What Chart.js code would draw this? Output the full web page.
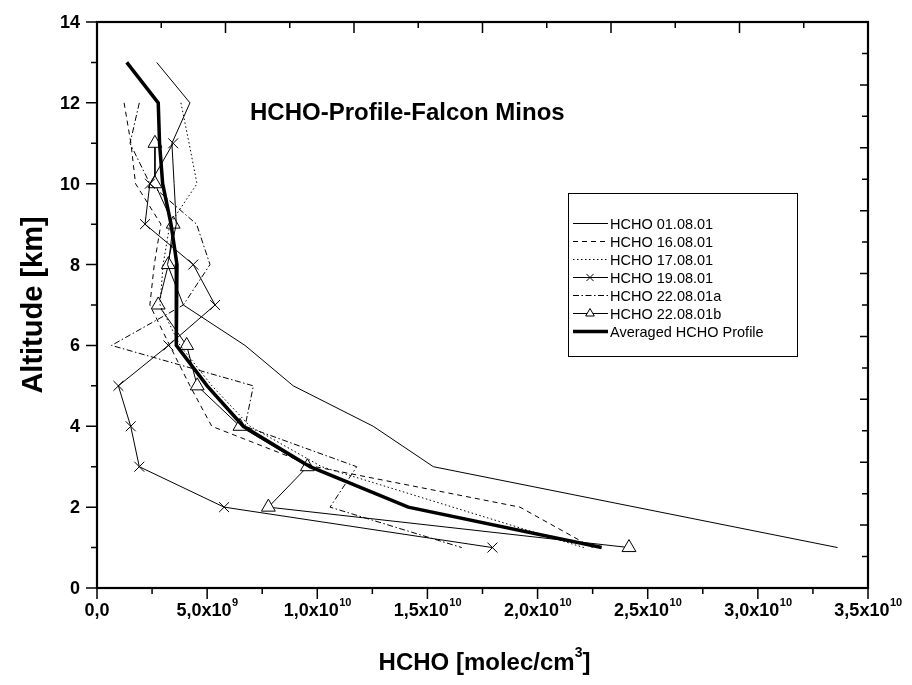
<!DOCTYPE html>
<html>
<head>
<meta charset="utf-8">
<script src="https://cdn.jsdelivr.net/npm/chart.js@4/dist/chart.umd.min.js"></script>
<style>
  html, body { margin: 0; padding: 0; background: #fff; }
  canvas { display: block; }
</style>
</head>
<body>
<canvas id="chart" width="912" height="685"></canvas>
<script>
// HCHO profiles per flight, altitude in km, concentration in molec/cm3
const alt01 = [13, 12, 11, 10, 9, 8, 7, 6, 5, 4, 3, 1];
const hcho01 = [2.71e9, 4.22e9, 3.40e9, 3.50e9, 3.60e9, 3.20e9, 3.92e9, 6.72e9, 8.91e9, 1.254e10, 1.527e10, 3.362e10];

const alt16 = [12, 11, 10, 9, 8, 7, 6, 5, 4, 3, 2, 1];
const hcho16 = [1.23e9, 1.54e9, 1.75e9, 2.9e9, 2.6e9, 2.4e9, 3.3e9, 4.22e9, 5.21e9, 9.9e9, 1.92e10, 2.25e10];

const alt17 = [12, 11, 10, 9, 8, 7, 6, 5, 4, 3, 1];
const hcho17 = [3.81e9, 4.18e9, 4.54e9, 3.31e9, 3.0e9, 2.86e9, 3.77e9, 5.22e9, 6.95e9, 1.02e10, 2.21e10];

const alt19 = [11, 10, 9, 8, 7, 6, 5, 4, 3, 2, 1];
const hcho19 = [3.46e9, 2.4e9, 2.18e9, 4.37e9, 5.36e9, 3.24e9, 9.7e8, 1.53e9, 1.92e9, 5.77e9, 1.795e10];

const alt22a = [12, 11, 10, 9, 8, 7, 6, 5, 4, 3, 2, 1];
const hcho22a = [1.92e9, 1.5e9, 2.4e9, 4.52e9, 5.13e9, 3.92e9, 6.6e8, 7.1e9, 6.72e9, 1.179e10, 1.058e10, 1.656e10];

const alt22b = [11, 10, 9, 8, 7, 6, 5, 4, 3, 2, 1];
const hcho22b = [2.63e9, 2.63e9, 3.46e9, 3.24e9, 2.78e9, 4.07e9, 4.55e9, 6.49e9, 9.55e9, 7.78e9, 2.415e10];

const altAvg = [13, 12, 11, 10, 9, 8, 7, 6, 5, 4, 3, 2, 1];
const hchoAvg = [1.35e9, 2.78e9, 2.84e9, 2.98e9, 3.36e9, 3.63e9, 3.59e9, 3.61e9, 5.0e9, 6.64e9, 9.67e9, 1.413e10, 2.291e10];

const seriesLabels = ['HCHO 01.08.01', 'HCHO 16.08.01', 'HCHO 17.08.01', 'HCHO 19.08.01',
                      'HCHO 22.08.01a', 'HCHO 22.08.01b', 'Averaged HCHO Profile'];

const xTicks = [0, 5e9, 1e10, 1.5e10, 2e10, 2.5e10, 3e10, 3.5e10];
const xTickLabels = ['0,0', '5,0x10^9', '1,0x10^10', '1,5x10^10', '2,0x10^10', '2,5x10^10', '3,0x10^10', '3,5x10^10'];
const yTicks = [0, 2, 4, 6, 8, 10, 12, 14];
const yTickLabels = ['0', '2', '4', '6', '8', '10', '12', '14'];

const FONT = '"Liberation Sans", Arial, sans-serif';

function pts(alt, vals) {
  return vals.map((v, i) => ({ x: v, y: alt[i] }));
}

function series(label, alt, vals, style) {
  return Object.assign({
    label: label,
    data: pts(alt, vals),
    showLine: true,
    borderColor: '#000',
    backgroundColor: '#fff',
    borderWidth: 1,
    pointRadius: 0,
    pointHoverRadius: 0,
    tension: 0
  }, style);
}

const datasets = [
  series(seriesLabels[0], alt01, hcho01, {}),
  series(seriesLabels[1], alt16, hcho16, { borderDash: [5, 4] }),
  series(seriesLabels[2], alt17, hcho17, { borderDash: [1.5, 2.5] }),
  series(seriesLabels[3], alt19, hcho19, { pointStyle: 'crossRot', pointRadius: 7, pointBorderWidth: 1 }),
  series(seriesLabels[4], alt22a, hcho22a, { borderDash: [6, 2.5, 1.5, 2.5] }),
  series(seriesLabels[5], alt22b, hcho22b, { pointStyle: 'triangle', pointRadius: 8, pointBorderWidth: 1 }),
  series(seriesLabels[6], altAvg, hchoAvg, { borderWidth: 3.5, order: -1 })
];

// axes frame, ticks, labels, title and legend drawn on top of the plot
const decor = {
  id: 'decor',
  afterDraw(chart) {
    const ctx = chart.ctx;
    const a = chart.chartArea;
    const sx = chart.scales.x, sy = chart.scales.y;
    const st = chart.scales.xTop, sr = chart.scales.yRight;
    ctx.save();
    ctx.strokeStyle = '#000';
    ctx.fillStyle = '#000';

    // ticks
    ctx.lineWidth = 1.5;
    ctx.beginPath();
    for (let i = 0; i < xTicks.length; i++) {
      const px = sx.getPixelForValue(xTicks[i]);
      ctx.moveTo(px, a.bottom); ctx.lineTo(px, a.bottom + 11);
      if (i < xTicks.length - 1) {
        const mx = sx.getPixelForValue((xTicks[i] + xTicks[i + 1]) / 2);
        ctx.moveTo(mx, a.bottom); ctx.lineTo(mx, a.bottom + 6);
      }
    }
    for (let i = 0; i < yTicks.length; i++) {
      const py = sy.getPixelForValue(yTicks[i]);
      ctx.moveTo(a.left, py); ctx.lineTo(a.left - 11, py);
      if (i < yTicks.length - 1) {
        const my = sy.getPixelForValue((yTicks[i] + yTicks[i + 1]) / 2);
        ctx.moveTo(a.left, my); ctx.lineTo(a.left - 6, my);
      }
    }
    for (let v = st.min; v <= st.max; v++) {
      const px = st.getPixelForValue(v);
      ctx.moveTo(px, a.top); ctx.lineTo(px, a.top + (v % 2 === 0 ? 11 : 6));
    }
    for (let v = sr.min; v <= sr.max; v++) {
      const py = sr.getPixelForValue(v);
      ctx.moveTo(a.right, py); ctx.lineTo(a.right - (v % 2 === 0 ? 8 : 6), py);
    }
    ctx.stroke();

    // frame
    ctx.lineWidth = 2.2;
    ctx.strokeRect(a.left, a.top, a.right - a.left, a.bottom - a.top);

    // x tick labels with exponent
    ctx.textBaseline = 'alphabetic';
    xTicks.forEach((v, i) => {
      const parts = xTickLabels[i].split('^');
      ctx.font = 'bold 18px ' + FONT;
      const w1 = ctx.measureText(parts[0]).width;
      let w2 = 0;
      if (parts[1]) { ctx.font = 'bold 11px ' + FONT; w2 = ctx.measureText(parts[1]).width; }
      const x0 = sx.getPixelForValue(v) - (w1 + w2) / 2;
      ctx.font = 'bold 18px ' + FONT;
      ctx.textAlign = 'left';
      ctx.fillText(parts[0], x0, a.bottom + 28);
      if (parts[1]) {
        ctx.font = 'bold 11px ' + FONT;
        ctx.fillText(parts[1], x0 + w1 + 0.5, a.bottom + 18);
      }
    });

    // y tick labels
    ctx.font = 'bold 18px ' + FONT;
    ctx.textAlign = 'right';
    ctx.textBaseline = 'middle';
    yTicks.forEach((v, i) => {
      ctx.fillText(yTickLabels[i], a.left - 17, sy.getPixelForValue(v) + 1);
    });

    // axis titles
    ctx.font = 'bold 24px ' + FONT;
    ctx.textBaseline = 'alphabetic';
    ctx.textAlign = 'left';
    const tx1 = 'HCHO [molec/cm', tx2 = ']';
    const w1 = ctx.measureText(tx1).width, w3 = ctx.measureText(tx2).width;
    ctx.font = 'bold 14px ' + FONT;
    const w2 = ctx.measureText('3').width;
    const tx0 = (a.left + a.right) / 2 - (w1 + w2 + w3) / 2 + 2;
    ctx.font = 'bold 24px ' + FONT;
    ctx.fillText(tx1, tx0, 670);
    ctx.fillText(tx2, tx0 + w1 + w2, 670);
    ctx.font = 'bold 14px ' + FONT;
    ctx.fillText('3', tx0 + w1, 657);

    ctx.save();
    ctx.translate(42, (a.top + a.bottom) / 2);
    ctx.rotate(-Math.PI / 2);
    ctx.font = 'bold 29px ' + FONT;
    ctx.textAlign = 'center';
    ctx.fillText('Altitude [km]', 0, 0);
    ctx.restore();

    // plot title
    ctx.font = 'bold 24px ' + FONT;
    ctx.textAlign = 'left';
    ctx.fillText('HCHO-Profile-Falcon Minos', 250, 120);

    // legend
    const box = { x: 568, y: 193, w: 229, h: 163 };
    ctx.fillStyle = '#fff';
    ctx.fillRect(box.x, box.y, box.w, box.h);
    ctx.lineWidth = 1;
    ctx.strokeStyle = '#000';
    ctx.strokeRect(box.x + 0.5, box.y + 0.5, box.w, box.h);
    ctx.fillStyle = '#000';
    ctx.font = '14.5px ' + FONT;
    ctx.textBaseline = 'middle';
    chart.data.datasets.forEach((ds, i) => {
      const ry = 223.5 + i * 18;
      ctx.save();
      ctx.lineWidth = ds.borderWidth;
      ctx.setLineDash(ds.borderDash || []);
      ctx.beginPath();
      ctx.moveTo(573, ry); ctx.lineTo(608, ry);
      ctx.stroke();
      ctx.restore();
      if (ds.pointStyle && ds.pointRadius > 0) {
        ctx.save();
        ctx.fillStyle = '#fff';
        ctx.lineWidth = 1;
        Chart.helpers.drawPoint(ctx, { pointStyle: ds.pointStyle, radius: 5, borderWidth: 1, rotation: 0 }, 590, ry);
        ctx.restore();
      }
      ctx.fillText(ds.label, 610, ry + 1);
    });
    ctx.restore();
  }
};

new Chart(document.getElementById('chart'), {
  type: 'scatter',
  data: { datasets: datasets },
  options: {
    responsive: false,
    animation: false,
    devicePixelRatio: 1,
    layout: { padding: { left: 97, top: 22, right: 44, bottom: 97 } },
    plugins: { legend: { display: false }, tooltip: { enabled: false } },
    scales: {
      x: { type: 'linear', min: 0, max: 3.5e10, display: false },
      y: { type: 'linear', min: 0, max: 14, display: false },
      xTop: { type: 'linear', axis: 'x', position: 'top', min: 0, max: 12, display: false },
      yRight: { type: 'linear', axis: 'y', position: 'right', min: 0, max: 18, display: false }
    }
  },
  plugins: [decor]
});
</script>
</body>
</html>
